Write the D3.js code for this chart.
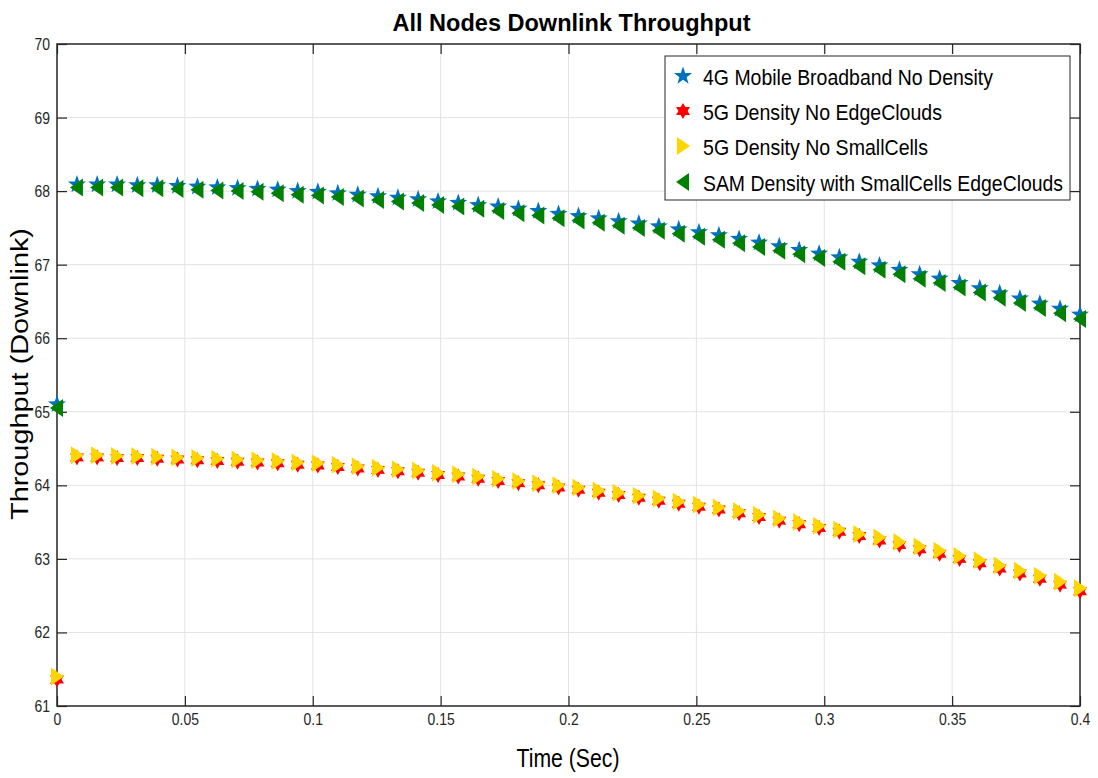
<!DOCTYPE html>
<html>
<head>
<meta charset="utf-8">
<script src="https://cdn.jsdelivr.net/npm/d3@7"></script>
<style>
  body { margin: 0; background: #fff; }
  text { font-family: "Liberation Sans", Arial, Helvetica, sans-serif; }
</style>
</head>
<body>
<svg id="chart" width="1098" height="778"></svg>
<script>
// Sample times (s)
const time = [
  0, 0.0078, 0.0157, 0.0235, 0.0314, 0.0392, 0.0471, 0.0549, 0.0627, 0.0706,
  0.0784, 0.0863, 0.0941, 0.1020, 0.1098, 0.1176, 0.1255, 0.1333, 0.1412, 0.1490,
  0.1569, 0.1647, 0.1725, 0.1804, 0.1882, 0.1961, 0.2039, 0.2118, 0.2196, 0.2275,
  0.2353, 0.2431, 0.2510, 0.2588, 0.2667, 0.2745, 0.2824, 0.2902, 0.2980, 0.3059,
  0.3137, 0.3216, 0.3294, 0.3373, 0.3451, 0.3529, 0.3608, 0.3686, 0.3765, 0.3843,
  0.3922, 0.4000
];

// Downlink throughput per scenario
const broadband4G = [
  65.10, 68.09, 68.09, 68.09, 68.08, 68.08, 68.07, 68.06, 68.05, 68.04,
  68.03, 68.02, 68.00, 67.99, 67.97, 67.95, 67.93, 67.91, 67.89, 67.86,
  67.84, 67.81, 67.79, 67.76, 67.73, 67.69, 67.66, 67.63, 67.59, 67.56,
  67.52, 67.48, 67.44, 67.40, 67.35, 67.30, 67.25, 67.20, 67.15, 67.10,
  67.04, 66.99, 66.93, 66.87, 66.81, 66.75, 66.68, 66.61, 66.54, 66.47,
  66.40, 66.32
];
const noEdgeClouds5G = [
  61.36, 64.38, 64.38, 64.37, 64.37, 64.36, 64.35, 64.34, 64.33, 64.32,
  64.31, 64.30, 64.28, 64.27, 64.25, 64.23, 64.21, 64.19, 64.17, 64.14,
  64.12, 64.09, 64.06, 64.03, 64.00, 63.97, 63.94, 63.90, 63.87, 63.83,
  63.79, 63.75, 63.71, 63.67, 63.62, 63.57, 63.52, 63.47, 63.42, 63.37,
  63.31, 63.25, 63.19, 63.13, 63.07, 63.00, 62.94, 62.87, 62.80, 62.73,
  62.65, 62.56
];
const noSmallCells5G = [
  61.40, 64.41, 64.41, 64.40, 64.40, 64.39, 64.38, 64.37, 64.36, 64.35,
  64.34, 64.33, 64.31, 64.30, 64.28, 64.26, 64.24, 64.22, 64.20, 64.17,
  64.15, 64.12, 64.09, 64.06, 64.03, 64.00, 63.97, 63.93, 63.90, 63.86,
  63.82, 63.78, 63.74, 63.70, 63.65, 63.60, 63.55, 63.50, 63.45, 63.40,
  63.34, 63.29, 63.23, 63.17, 63.11, 63.04, 62.98, 62.91, 62.84, 62.77,
  62.69, 62.60
];
const samSmallCellsEdge = [
  65.05, 68.05, 68.05, 68.05, 68.04, 68.04, 68.03, 68.02, 68.01, 68.00,
  67.99, 67.97, 67.95, 67.94, 67.92, 67.90, 67.88, 67.86, 67.84, 67.81,
  67.79, 67.76, 67.73, 67.70, 67.67, 67.63, 67.60, 67.57, 67.53, 67.50,
  67.46, 67.42, 67.38, 67.34, 67.29, 67.24, 67.19, 67.14, 67.09, 67.04,
  66.98, 66.93, 66.87, 66.81, 66.75, 66.69, 66.62, 66.55, 66.48, 66.41,
  66.34, 66.26
];

const seriesNames = [
  "4G Mobile Broadband No Density",
  "5G Density No EdgeClouds",
  "5G Density No SmallCells",
  "SAM Density with SmallCells EdgeClouds"
];
const seriesColors = ["#0072BD", "#FF0000", "#FFD500", "#008000"];
const seriesMarkers = ["pentagram", "hexagram", "triRight", "triLeft"];

const xTicks = [0, 0.05, 0.1, 0.15, 0.2, 0.25, 0.3, 0.35, 0.4];
const yTicks = [61, 62, 63, 64, 65, 66, 67, 68, 69, 70];

// ---- layout ----
const plot = { left: 57, right: 1080, top: 44, bottom: 706 };
const svg = d3.select("#chart");

const x = d3.scaleLinear().domain([0, 0.4]).range([plot.left, plot.right]);
const y = d3.scaleLinear().domain([61, 70]).range([plot.bottom, plot.top]);

// ---- marker shapes ----
function starPath(points, rOuter, rInner) {
  const p = d3.path();
  for (let k = 0; k < points * 2; k++) {
    const r = k % 2 === 0 ? rOuter : rInner;
    const a = -Math.PI / 2 + k * Math.PI / points;
    const px = r * Math.cos(a), py = r * Math.sin(a);
    if (k === 0) p.moveTo(px, py); else p.lineTo(px, py);
  }
  p.closePath();
  return p.toString();
}
const markerPaths = {
  pentagram: starPath(5, 9.5, 3.8),
  hexagram: starPath(6, 8, 4.6),
  triRight: "M7,0L-6,-9L-6,9Z",
  triLeft: "M-7,0L6,-9L6,9Z"
};

// ---- grid ----
const grid = svg.append("g").attr("class", "grid");
grid.selectAll("line.gx").data(xTicks.slice(1, -1)).enter().append("line")
  .attr("x1", d => x(d)).attr("x2", d => x(d))
  .attr("y1", plot.top).attr("y2", plot.bottom)
  .attr("stroke", "#e3e3e3").attr("stroke-width", 1);
grid.selectAll("line.gy").data(yTicks.slice(1, -1)).enter().append("line")
  .attr("x1", plot.left).attr("x2", plot.right)
  .attr("y1", d => y(d)).attr("y2", d => y(d))
  .attr("stroke", "#e3e3e3").attr("stroke-width", 1);

// ---- axes (ticks inward, on all four sides) ----
const axisColor = "#262626";
const tickLen = 10;
function styleAxis(g) {
  g.select(".domain").remove();
  g.selectAll(".tick line").attr("stroke", axisColor).attr("stroke-width", 1.2);
  g.selectAll(".tick text").attr("fill", axisColor)
    .style("font-size", "17px")
    .each(function () {
      // narrow tick-label lettering
      const len = this.getComputedTextLength();
      if (len > 0) d3.select(this).attr("textLength", len * 0.82).attr("lengthAdjust", "spacingAndGlyphs");
    });
}
const xFmt = d => d === 0 ? "0" : String(+d.toFixed(2));

svg.append("g")
  .attr("transform", `translate(0,${plot.bottom})`)
  .call(d3.axisBottom(x).tickValues(xTicks).tickFormat(xFmt)
    .tickSizeInner(-tickLen).tickSizeOuter(0).tickPadding(7))
  .call(styleAxis);
svg.append("g")
  .attr("transform", `translate(0,${plot.top})`)
  .call(d3.axisTop(x).tickValues(xTicks).tickFormat("")
    .tickSizeInner(-tickLen).tickSizeOuter(0))
  .call(styleAxis);
svg.append("g")
  .attr("transform", `translate(${plot.left},0)`)
  .call(d3.axisLeft(y).tickValues(yTicks).tickFormat(d3.format("d"))
    .tickSizeInner(-tickLen).tickSizeOuter(0).tickPadding(7))
  .call(styleAxis);
svg.append("g")
  .attr("transform", `translate(${plot.right},0)`)
  .call(d3.axisRight(y).tickValues(yTicks).tickFormat("")
    .tickSizeInner(-tickLen).tickSizeOuter(0))
  .call(styleAxis);

svg.append("rect")
  .attr("x", plot.left).attr("y", plot.top)
  .attr("width", plot.right - plot.left).attr("height", plot.bottom - plot.top)
  .attr("fill", "none").attr("stroke", axisColor).attr("stroke-width", 1.5);

// ---- data markers ----
const allSeries = [broadband4G, noEdgeClouds5G, noSmallCells5G, samSmallCellsEdge];
const marks = svg.append("g").attr("class", "marks");
allSeries.forEach((vals, s) => {
  marks.append("g").selectAll("path").data(vals).enter().append("path")
    .attr("d", markerPaths[seriesMarkers[s]])
    .attr("transform", (v, i) => `translate(${x(time[i])},${y(v)})`)
    .attr("fill", seriesColors[s]);
});

// ---- title and axis labels ----
svg.append("text")
  .attr("x", (plot.left + plot.right) / 2 + 3).attr("y", 31)
  .attr("text-anchor", "middle")
  .attr("textLength", 358).attr("lengthAdjust", "spacingAndGlyphs")
  .style("font-size", "23px").style("font-weight", "bold").attr("fill", "#000")
  .text("All Nodes Downlink Throughput");

svg.append("text")
  .attr("x", 568).attr("y", 767)
  .attr("text-anchor", "middle")
  .attr("textLength", 103).attr("lengthAdjust", "spacingAndGlyphs")
  .style("font-size", "25px").attr("fill", "#000")
  .text("Time (Sec)");

svg.append("text")
  .attr("transform", "translate(28,374) rotate(-90)")
  .attr("text-anchor", "middle")
  .attr("textLength", 292).attr("lengthAdjust", "spacingAndGlyphs")
  .style("font-size", "23px").attr("fill", "#000")
  .text("Throughput (Downlink)");

// ---- legend ----
const legend = svg.append("g").attr("class", "legend");
legend.append("rect")
  .attr("x", 665).attr("y", 56).attr("width", 405).attr("height", 144)
  .attr("fill", "#fff").attr("stroke", axisColor).attr("stroke-width", 1);
const rowY = [76, 111, 146, 182];
const rowWidths = [290, 239, 225, 360];
seriesNames.forEach((name, s) => {
  legend.append("path")
    .attr("d", markerPaths[seriesMarkers[s]])
    .attr("transform", `translate(683,${rowY[s]})`)
    .attr("fill", seriesColors[s]);
  legend.append("text")
    .attr("x", 703).attr("y", rowY[s] + 9)
    .attr("textLength", rowWidths[s]).attr("lengthAdjust", "spacingAndGlyphs")
    .style("font-size", "22px").attr("fill", "#000")
    .text(name);
});
</script>
</body>
</html>
